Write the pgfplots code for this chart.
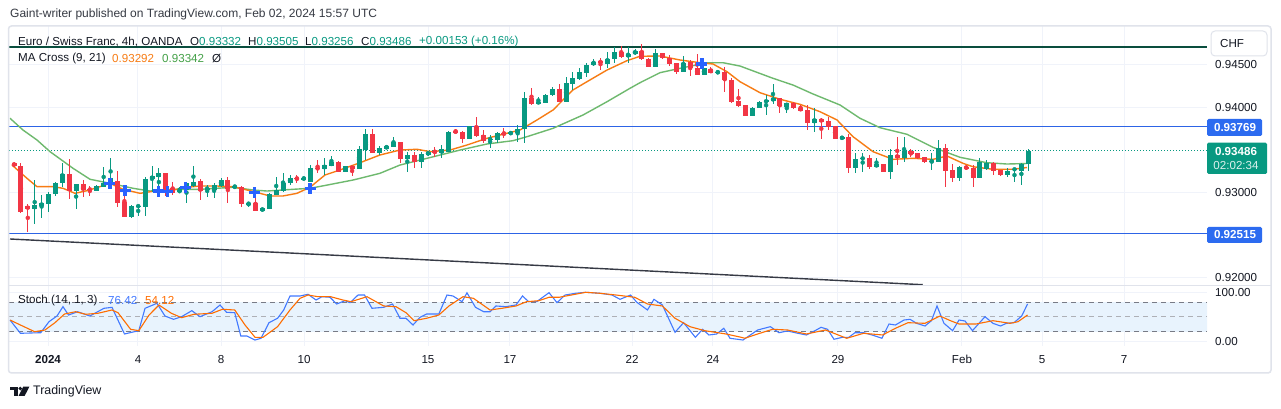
\documentclass[border=0pt]{standalone}
\usepackage{pgfplots}
\pgfplotsset{compat=1.18}
\usepackage{pgfplotstable}
\usepackage{fontspec}
\setmainfont{Liberation Sans}
\definecolor{upc}{RGB}{8,153,129}
\definecolor{dnc}{RGB}{242,54,69}
\definecolor{txt}{RGB}{19,23,34}
\definecolor{gridc}{RGB}{240,243,250}
\definecolor{framec}{RGB}{224,227,235}
\definecolor{bluel}{RGB}{45,100,230}
\definecolor{bluebox}{RGB}{44,107,240}
\definecolor{maor}{RGB}{247,124,20}
\definecolor{magr}{RGB}{110,185,110}
\definecolor{magrt}{RGB}{67,160,71}
\definecolor{crossc}{RGB}{41,98,255}
\definecolor{kblue}{RGB}{66,121,255}
\definecolor{dorange}{RGB}{255,109,0}
\definecolor{topline}{RGB}{10,78,62}
\definecolor{bandc}{RGB}{232,243,253}
\definecolor{dashc}{RGB}{120,123,134}
\definecolor{trendc}{RGB}{54,58,69}
\newcommand{\fs}{\fontsize{11.6}{13}\selectfont}

\pgfplotstableread{
i o h l c
0 0.93344 0.93356 0.93297 0.93309
1 0.93309 0.93340 0.92761 0.92772
2 0.92839 0.92863 0.92538 0.92804
3 0.92804 0.93144 0.92628 0.92847
4 0.92843 0.92968 0.92698 0.92874
5 0.92863 0.93007 0.92772 0.92977
6 0.92977 0.93124 0.92960 0.93106
7 0.93106 0.93340 0.93059 0.93215
8 0.93215 0.93391 0.92921 0.93019
9 0.93019 0.93097 0.92804 0.93097
10 0.93097 0.93144 0.92941 0.93027
11 0.93042 0.93074 0.92960 0.93027
12 0.93019 0.93086 0.93015 0.93074
13 0.93066 0.93300 0.93059 0.93113
14 0.93086 0.93406 0.93086 0.93168
15 0.93136 0.93254 0.92824 0.92878
16 0.92886 0.93086 0.92707 0.92714
17 0.92707 0.92851 0.92698 0.92839
18 0.92836 0.92839 0.92725 0.92839
19 0.92831 0.93183 0.92725 0.93153
20 0.93153 0.93309 0.93007 0.93191
21 0.93183 0.93282 0.92960 0.93223
22 0.93223 0.93230 0.92960 0.93027
23 0.93047 0.93124 0.92968 0.92995
24 0.93000 0.93062 0.92998 0.93027
25 0.93027 0.93124 0.92871 0.93113
26 0.93074 0.93309 0.93059 0.93124
27 0.93136 0.93153 0.92910 0.93019
28 0.93042 0.93086 0.92948 0.93047
29 0.93027 0.93106 0.92930 0.93082
30 0.93074 0.93164 0.93066 0.93144
31 0.93144 0.93176 0.92878 0.93042
32 0.93062 0.93086 0.93050 0.93066
33 0.93066 0.93074 0.92831 0.92863
34 0.92863 0.92890 0.92831 0.92871
35 0.92878 0.92948 0.92784 0.92784
36 0.92784 0.92816 0.92780 0.92812
37 0.92804 0.92988 0.92804 0.92977
38 0.92968 0.93183 0.92968 0.93027
39 0.93015 0.93223 0.93007 0.93106
40 0.93106 0.93203 0.93086 0.93164
41 0.93168 0.93203 0.93113 0.93160
42 0.93160 0.93183 0.93144 0.93164
43 0.93124 0.93320 0.93121 0.93282
44 0.93285 0.93379 0.93223 0.93276
45 0.93270 0.93399 0.93203 0.93320
46 0.93309 0.93426 0.93309 0.93356
47 0.93356 0.93371 0.93242 0.93242
48 0.93242 0.93309 0.93238 0.93309
49 0.93309 0.93309 0.93195 0.93273
50 0.93273 0.93543 0.93273 0.93505
51 0.93496 0.93739 0.93379 0.93681
52 0.93681 0.93739 0.93465 0.93465
53 0.93465 0.93543 0.93438 0.93516
54 0.93512 0.93555 0.93508 0.93543
55 0.93535 0.93646 0.93528 0.93587
56 0.93587 0.93590 0.93347 0.93387
57 0.93387 0.93477 0.93242 0.93434
58 0.93434 0.93477 0.93282 0.93356
59 0.93356 0.93477 0.93282 0.93446
60 0.93438 0.93485 0.93432 0.93477
61 0.93480 0.93535 0.93418 0.93473
62 0.93465 0.93555 0.93399 0.93505
63 0.93477 0.93723 0.93477 0.93704
64 0.93723 0.93739 0.93696 0.93700
65 0.93704 0.93723 0.93575 0.93626
66 0.93626 0.93778 0.93626 0.93778
67 0.93778 0.93880 0.93653 0.93661
68 0.93672 0.93731 0.93575 0.93606
69 0.93620 0.93672 0.93516 0.93630
70 0.93614 0.93711 0.93575 0.93692
71 0.93692 0.93751 0.93634 0.93681
72 0.93681 0.93719 0.93672 0.93711
73 0.93692 0.93790 0.93594 0.93739
74 0.93739 0.94181 0.93575 0.94103
75 0.94103 0.94221 0.94025 0.94036
76 0.94045 0.94122 0.94036 0.94064
77 0.94045 0.94154 0.94045 0.94142
78 0.94142 0.94239 0.94130 0.94209
79 0.94209 0.94268 0.94060 0.94060
80 0.94060 0.94357 0.94060 0.94286
81 0.94268 0.94416 0.94201 0.94345
82 0.94326 0.94455 0.94318 0.94416
83 0.94397 0.94514 0.94357 0.94494
84 0.94494 0.94561 0.94482 0.94533
85 0.94536 0.94573 0.94435 0.94529
86 0.94506 0.94650 0.94455 0.94565
87 0.94565 0.94709 0.94521 0.94650
88 0.94650 0.94717 0.94573 0.94592
89 0.94592 0.94709 0.94521 0.94623
90 0.94623 0.94678 0.94612 0.94662
91 0.94658 0.94741 0.94553 0.94567
92 0.94567 0.94577 0.94474 0.94474
93 0.94474 0.94688 0.94474 0.94631
94 0.94631 0.94638 0.94561 0.94582
95 0.94582 0.94612 0.94482 0.94506
96 0.94514 0.94514 0.94388 0.94416
97 0.94416 0.94600 0.94416 0.94521
98 0.94533 0.94553 0.94365 0.94455
99 0.94455 0.94623 0.94377 0.94377
100 0.94377 0.94459 0.94377 0.94455
101 0.94447 0.94467 0.94397 0.94397
102 0.94405 0.94427 0.94397 0.94412
103 0.94416 0.94474 0.94181 0.94318
104 0.94318 0.94338 0.94045 0.94056
105 0.94072 0.94209 0.94005 0.94017
106 0.94025 0.94025 0.93896 0.93896
107 0.93896 0.94007 0.93896 0.93993
108 0.93993 0.94072 0.93986 0.94064
109 0.94056 0.94142 0.93907 0.94083
110 0.94072 0.94271 0.94036 0.94110
111 0.94110 0.94110 0.93934 0.94016
112 0.94005 0.94052 0.93927 0.94052
113 0.94052 0.94060 0.93981 0.93986
114 0.93993 0.94025 0.93958 0.93958
115 0.93966 0.94025 0.93731 0.93810
116 0.93810 0.93986 0.93704 0.93860
117 0.93860 0.93869 0.93626 0.93829
118 0.93837 0.93880 0.93731 0.93763
119 0.93778 0.93778 0.93626 0.93626
120 0.93637 0.93664 0.93614 0.93645
121 0.93653 0.93681 0.93230 0.93289
122 0.93289 0.93458 0.93223 0.93391
123 0.93395 0.93458 0.93242 0.93403
124 0.93399 0.93438 0.93270 0.93300
125 0.93300 0.93399 0.93300 0.93332
126 0.93332 0.93332 0.93242 0.93242
127 0.93242 0.93505 0.93153 0.93438
128 0.93438 0.93653 0.93320 0.93406
129 0.93406 0.93653 0.93359 0.93485
130 0.93485 0.93505 0.93411 0.93450
131 0.93465 0.93465 0.93387 0.93399
132 0.93411 0.93418 0.93347 0.93359
133 0.93363 0.93458 0.93262 0.93371
134 0.93359 0.93614 0.93359 0.93523
135 0.93523 0.93563 0.93059 0.93254
136 0.93262 0.93332 0.93124 0.93164
137 0.93164 0.93309 0.93136 0.93300
138 0.93300 0.93320 0.93262 0.93282
139 0.93289 0.93320 0.93066 0.93164
140 0.93164 0.93399 0.93164 0.93359
141 0.93270 0.93379 0.93262 0.93347
142 0.93347 0.93359 0.93203 0.93254
143 0.93262 0.93262 0.93191 0.93203
144 0.93203 0.93282 0.93176 0.93254
145 0.93266 0.93282 0.93124 0.93273
146 0.93250 0.93347 0.93086 0.93332
147 0.93332 0.93505 0.93256 0.93486
}\candles

\pgfplotstableread{
x y
-0.29 0.93320
1.88 0.93164
3.33 0.93066
5.65 0.93066
7.10 0.93047
8.84 0.92988
10.58 0.93019
12.46 0.93066
13.91 0.93106
15.80 0.93035
18.26 0.92988
20.72 0.93019
23.04 0.93027
25.07 0.93059
26.96 0.93074
29.42 0.93074
31.74 0.93066
33.77 0.93027
35.65 0.92988
37.10 0.92957
38.99 0.92957
41.01 0.92988
42.90 0.93059
45.07 0.93203
47.25 0.93262
50.14 0.93347
53.04 0.93438
55.94 0.93496
58.41 0.93505
60.29 0.93477
63.19 0.93496
65.65 0.93555
68.55 0.93634
70.87 0.93681
73.33 0.93731
75.80 0.93849
78.12 0.93966
81.01 0.94201
83.04 0.94298
85.94 0.94435
88.84 0.94545
90.72 0.94596
93.62 0.94600
96.52 0.94553
99.42 0.94521
101.30 0.94506
103.33 0.94416
105.22 0.94298
108.12 0.94169
111.01 0.94092
113.91 0.94033
116.81 0.93946
119.28 0.93849
121.59 0.93653
124.49 0.93477
127.39 0.93387
130.29 0.93399
133.19 0.93387
135.22 0.93426
137.54 0.93340
138.99 0.93300
141.88 0.93270
144.78 0.93270
146.81 0.93291
}\maf

\pgfplotstableread{
x y
-0.58 0.93869
1.30 0.93731
3.33 0.93614
5.22 0.93477
8.55 0.93282
11.01 0.93153
13.91 0.93106
17.25 0.93047
19.71 0.93015
23.04 0.93035
26.96 0.93035
31.74 0.93059
34.64 0.93027
36.67 0.93015
40.43 0.93035
42.90 0.93047
45.07 0.93080
49.13 0.93144
53.04 0.93223
55.94 0.93320
59.86 0.93399
64.64 0.93496
68.55 0.93567
72.32 0.93606
74.35 0.93653
78.12 0.93751
82.46 0.93907
85.94 0.94063
89.28 0.94221
90.72 0.94286
93.62 0.94404
96.52 0.94455
100.43 0.94521
102.75 0.94521
105.22 0.94482
110.00 0.94338
112.90 0.94259
115.80 0.94154
119.71 0.94025
122.61 0.93869
125.51 0.93758
129.42 0.93681
133.19 0.93528
137.10 0.93411
141.01 0.93347
143.91 0.93332
146.81 0.93338
}\mas

\pgfplotstableread{
x y
13.9 0.93106
16.1 0.93019
20.9 0.93015
22.2 0.93007
24.9 0.93059
34.9 0.92995
42.9 0.93047
99.7 0.94506
}\crosses

\pgfplotstableread{
x y
-0.58 43.9
0.93 17
3.88 18.2
5.07 40.5
6.23 52
7.10 71
7.91 54
9.22 60.7
10.99 52
13.04 67.6
14.20 69.6
16.01 15.6
18.09 22.3
18.99 67.6
20.72 77.7
21.88 52
23.12 45.3
24.29 50.6
25.77 62.8
26.96 50.6
28.70 60.7
29.86 74.3
30.80 59.5
31.99 58.7
32.87 11.5
33.77 11.5
34.93 3.4
35.80 6.9
36.96 38.5
38.20 47.4
39.09 64.2
40.00 92.5
41.45 92.5
42.61 96
43.77 84.4
44.64 91.1
45.80 89.9
46.77 76.3
47.97 83
48.70 79
49.86 94.5
50.80 94.5
51.88 67.6
53.58 69.6
54.87 76.3
55.94 47.4
56.81 47.4
57.83 33.8
58.84 49.4
59.78 56
61.57 56
62.75 94.5
63.62 92.5
64.93 81
65.65 99
66.88 69.6
68.07 60.7
68.99 60.7
69.86 72.3
71.30 70.9
72.75 74.3
73.70 92.5
74.58 81
75.75 81
77.54 99.2
78.70 79
79.86 94.5
81.38 98
82.86 100
84.93 98
86.67 94.5
87.83 85.8
89.36 94.5
90.25 80
91.81 64.2
92.75 85.8
93.97 74.3
95.80 19
97.04 38.5
98.75 8.9
99.80 25.1
100.72 13.6
101.83 15.6
102.87 27.1
103.77 6.9
105.65 3.4
107.78 23.7
109.62 30.4
110.87 18.2
112.09 21.7
113.62 17
114.84 13.6
116.09 22.3
116.96 29.1
117.91 25.1
118.84 4.9
120.07 8.9
120.99 8.9
121.88 18.2
123.13 18.2
124.35 13.6
125.78 6.9
126.81 35.8
127.74 33.8
128.99 43.9
129.86 45.3
130.81 37.2
132.03 31.8
132.96 42.5
133.77 72.3
134.78 37.2
136.03 22.3
136.96 43.9
137.83 41.9
138.91 22.3
140.72 50.6
141.88 37.2
142.97 31.8
143.83 37.2
144.93 38.5
146.04 52
146.90 76.42
}\stk

\pgfplotstableread{
x y
-0.58 43.9
0.93 33.8
3.00 20.2
4.49 23.7
5.94 38.5
7.32 56
8.91 60.7
10.39 55.5
12.17 57.5
14.20 64.2
15.07 58.7
16.90 25.1
18.09 22.3
19.57 54
21.01 74.3
22.81 57.5
24.29 48.6
26.09 55.5
28.70 57.5
30.20 65.6
31.99 64.2
33.48 33.8
34.93 8.9
36.09 8.9
38.20 30.4
40.00 64.2
41.45 87.8
42.61 94.5
44.06 91.1
45.88 91.1
47.67 84.4
48.84 81
51.16 91.1
53.58 72.3
55.36 70.9
56.81 58.7
57.97 42.5
59.78 47.4
61.57 54
63.04 72.3
65.07 91.1
66.59 87.8
68.99 64.2
70.72 67.6
72.75 72.3
74.28 81
76.06 83
77.54 89.9
78.99 89.9
80.78 94.5
82.86 100
84.93 98
87.25 94.5
89.97 89.9
91.81 76.3
93.97 72.3
95.80 47.4
97.97 30.4
100.10 22.3
103.19 15.6
105.01 10.1
105.94 7
108.09 17
109.93 25.1
112.09 23.7
114.84 15.6
117.61 23.7
120.68 6.9
123.13 17
125.90 13.6
127.74 27.1
129.57 38.5
132.03 37.2
134.20 52
135.72 42.5
136.96 35.8
139.42 35.8
141.88 42.5
144.35 37.2
145.51 40.5
146.90 54.12
}\std

\begin{document}
\begin{tikzpicture}[x=1pt,y=1pt]
\path[use as bounding box] (0,0) rectangle (1281,409);
\fill[white] (0,0) rectangle (1281,409);
\node[anchor=west, inner sep=0, font=\fontsize{12}{14}\selectfont, text=txt!85] at (10,395) {Gaint-writer published on TradingView.com, Feb 02, 2024 15:57 UTC};

% main pane
\begin{axis}[at={(9pt,124pt)}, anchor=south west, scale only axis,
  width=1198pt, height=259pt,
  xmin=-0.725, xmax=172.9, ymin=0.91912, ymax=0.94952,
  axis line style={draw=none}, tick style={draw=none}, major tick length=0pt,
  xtick={4.93,17.97,30,42.03,60,71.88,89.57,101.3,119.42,137.39,148.99,160.87},
  xticklabels={},
  ytick={0.92,0.93,0.94,0.945},
  yticklabels={0.92000,0.93000,0.94000,0.94500},
  yticklabel pos=right,
  yticklabel style={anchor=west, inner sep=0pt, xshift=8pt, font=\fs, text=txt},
  grid style={gridc, line width=1pt}, xmajorgrids, ymajorgrids]
\addplot[topline, line width=1.4pt, forget plot] coordinates {(-0.725,0.947054) (172.9,0.947054)};
\addplot[bluel, line width=1.2pt, forget plot] coordinates {(-0.725,0.93769) (172.9,0.93769)};
\addplot[bluel, line width=1.2pt, forget plot] coordinates {(-0.725,0.92515) (172.9,0.92515)};
\addplot[upc, line width=1pt, dash pattern=on 1pt off 2pt, forget plot] coordinates {(-0.725,0.93486) (172.9,0.93486)};
\addplot[trendc, line width=1.4pt, forget plot] coordinates {(-0.58,0.924519) (131.7,0.919155)};
% MA lines
\addplot[magr, line width=1.4pt, forget plot] table[x=x,y=y] {\mas};
\addplot[maor, line width=1.4pt, forget plot] table[x=x,y=y] {\maf};
% wicks
\addplot[forget plot, only marks, mark=none, upc,
  restrict expr to domain={\thisrow{c}-\thisrow{o}}{0:1},
  error bars/.cd, y dir=both, y explicit, error mark=none,
  error bar style={line width=1pt, upc}]
  table[x=i, y expr={(\thisrow{h}+\thisrow{l})/2}, y error expr={(\thisrow{h}-\thisrow{l})/2}] {\candles};
\addplot[forget plot, only marks, mark=none, dnc,
  restrict expr to domain={\thisrow{o}-\thisrow{c}}{0.000001:1},
  error bars/.cd, y dir=both, y explicit, error mark=none,
  error bar style={line width=1pt, dnc}]
  table[x=i, y expr={(\thisrow{h}+\thisrow{l})/2}, y error expr={(\thisrow{h}-\thisrow{l})/2}] {\candles};
% bodies
\addplot[forget plot, only marks, mark=none, upc,
  restrict expr to domain={\thisrow{c}-\thisrow{o}}{0:1},
  error bars/.cd, y dir=both, y explicit, error mark=none,
  error bar style={line width=5pt, upc}]
  table[x=i, y expr={(\thisrow{o}+\thisrow{c})/2}, y error expr={max(abs(\thisrow{c}-\thisrow{o})/2,0.00006)}] {\candles};
\addplot[forget plot, only marks, mark=none, dnc,
  restrict expr to domain={\thisrow{o}-\thisrow{c}}{0.000001:1},
  error bars/.cd, y dir=both, y explicit, error mark=none,
  error bar style={line width=5pt, dnc}]
  table[x=i, y expr={(\thisrow{o}+\thisrow{c})/2}, y error expr={max(abs(\thisrow{c}-\thisrow{o})/2,0.00006)}] {\candles};
% MA cross markers
\addplot[forget plot, only marks, mark=+, mark size=5.5pt, crossc, mark options={line width=3.2pt}] table[x=x,y=y] {\crosses};
\end{axis}

% stochastic pane
\begin{axis}[at={(9pt,63pt)}, anchor=south west, scale only axis,
  width=1198pt, height=60pt,
  xmin=-0.725, xmax=172.9, ymin=-8.7, ymax=112.75,
  axis line style={draw=none}, tick style={draw=none}, major tick length=0pt,
  xtick={4.93,17.97,30,42.03,60,71.88,89.57,101.3,119.42,137.39,148.99,160.87},
  xticklabels={\textbf{2024},4,8,10,15,17,22,24,29,Feb,5,7},
  xticklabel style={anchor=base, inner sep=0pt, yshift=-18pt, font=\fs, text=txt},
  ytick={0,100}, yticklabels={0.00,100.00},
  yticklabel pos=right,
  yticklabel style={anchor=west, inner sep=0pt, xshift=8pt, font=\fs, text=txt},
  grid style={gridc, line width=1pt}, xmajorgrids, ymajorgrids]
\addplot[forget plot, draw=none, fill=bandc] coordinates {(-0.725,20) (172.9,20) (172.9,80) (-0.725,80) (-0.725,20)};
\addplot[forget plot, dashc, line width=1pt, dash pattern=on 5pt off 4pt] coordinates {(-0.725,80) (172.9,80)};
\addplot[forget plot, dashc!60, line width=1pt, dash pattern=on 5pt off 4pt] coordinates {(-0.725,50) (172.9,50)};
\addplot[forget plot, dashc, line width=1pt, dash pattern=on 5pt off 4pt] coordinates {(-0.725,20) (172.9,20)};
\addplot[forget plot, kblue, line width=1.1pt] table[x=x,y=y] {\stk};
\addplot[forget plot, dorange, line width=1.1pt] table[x=x,y=y] {\std};
\end{axis}

% frame and separators
\draw[framec, line width=1.5pt, rounded corners=3pt] (8.5,36) rectangle (1271,383);
\draw[framec, line width=1.2pt] (8.5,123.5) -- (1271,123.5);

% legends
\node[anchor=west, inner sep=0, font=\fs, text=txt] at (18,367) {Euro / Swiss Franc, 4h, OANDA};
\node[anchor=west, inner sep=0, font=\fs] at (190,367) {\textcolor{txt}{O}\textcolor{upc}{0.93332}};
\node[anchor=west, inner sep=0, font=\fs] at (248,367) {\textcolor{txt}{H}\textcolor{upc}{0.93505}};
\node[anchor=west, inner sep=0, font=\fs] at (305,367) {\textcolor{txt}{L}\textcolor{upc}{0.93256}};
\node[anchor=west, inner sep=0, font=\fs] at (361,367) {\textcolor{txt}{C}\textcolor{upc}{0.93486}};
\node[anchor=west, inner sep=0, font=\fs, text=upc] at (419,367) {+0.00153 (+0.16\%)};
\node[anchor=west, inner sep=0, font=\fs, text=txt] at (18,350) {MA Cross (9, 21)};
\node[anchor=west, inner sep=0, font=\fs, text=maor] at (112,350) {0.93292};
\node[anchor=west, inner sep=0, font=\fs, text=magrt] at (162,350) {0.93342};
\node[anchor=west, inner sep=0, font=\fs, text=txt] at (212,350) {Ø};
\node[anchor=west, inner sep=0, font=\fs, text=txt] at (18,108.3) {Stoch (14, 1, 3)};
\node[anchor=west, inner sep=0, font=\fs, text=kblue] at (108,108.3) {76.42};
\node[anchor=west, inner sep=0, font=\fs, text=dorange] at (145,108.3) {54.12};

% price scale boxes
\fill[white] (1211,353) rectangle (1267,378);
\draw[framec, line width=1pt, rounded corners=4pt] (1211,353) rectangle (1267,378);
\node[anchor=west, inner sep=0, font=\fs, text=txt] at (1220,365.5) {CHF};
\fill[bluebox, rounded corners=1.5pt] (1207,273) rectangle (1262,290);
\node[inner sep=0, font=\fs\bfseries, text=white] at (1235,281.5) {0.93769};
\fill[upc, rounded corners=1.5pt] (1207,235) rectangle (1267,266.3);
\node[inner sep=0, font=\fs\bfseries, text=white] at (1236,257) {0.93486};
\node[inner sep=0, font=\fs, text=white!85!upc] at (1236,243.5) {02:02:34};
\fill[bluebox, rounded corners=1.5pt] (1207,166) rectangle (1262,182);
\node[inner sep=0, font=\fs\bfseries, text=white] at (1235,174) {0.92515};

% footer logo
\fill[txt] (10,19.2) rectangle (17.5,22.4);
\fill[txt] (13.6,13) rectangle (17.5,22.4);
\fill[txt] (20.3,20.4) circle (1.9);
\fill[txt] (23.2,22.4) -- (29.4,22.4) -- (24.6,13) -- (18.6,13) -- cycle;
\node[anchor=west, inner sep=0, font=\fontsize{12.4}{14}\selectfont, text=txt] at (33,17.5) {TradingView};
\end{tikzpicture}
\end{document}
